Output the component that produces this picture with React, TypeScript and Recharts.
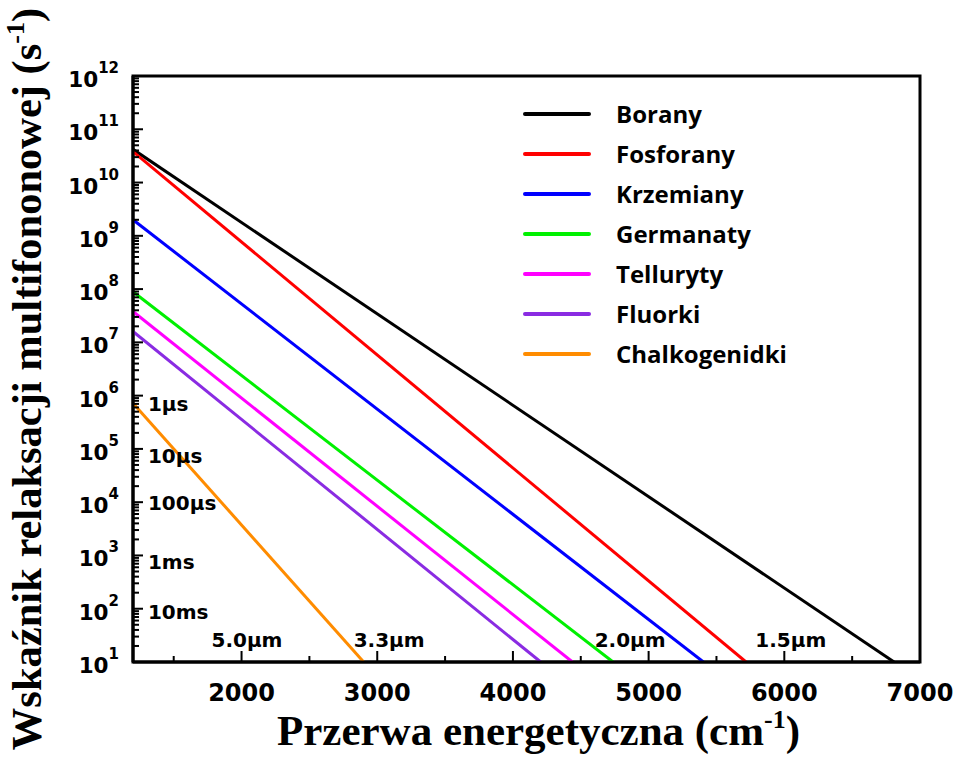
import React from 'react';
import { LineChart, Line, XAxis, YAxis, ReferenceArea, ReferenceDot, Legend } from 'recharts';

// ---- data ----
const seriesNames = ['Borany', 'Fosforany', 'Krzemiany', 'Germanaty', 'Telluryty', 'Fluorki', 'Chalkogenidki'];
const seriesColors = ['#000000', '#ff0000', '#0000ff', '#00f000', '#ff00ff', '#8a2be2', '#ff8c00'];
// rate (s^-1) at the left edge of the plot (gap = 1200 cm^-1)
const startRates = [4.2e10, 3.8e10, 2.0e9, 8.9e7, 3.8e7, 1.6e7, 7.2e5];
// energy gap (cm^-1) where each line reaches 10 s^-1
const endGaps = [6809, 5718, 5404, 4738, 4439, 4205, 2900];
const startGap = 1200;
const endRate = 10;

const xDomain = [1200, 7000];
const xTicks = [1500, 2000, 2500, 3000, 3500, 4000, 4500, 5000, 5500, 6000, 6500, 7000];
const yDomain = [10, 1e12];
const yDecades = [1, 2, 3, 4, 5, 6, 7, 8, 9, 10, 11, 12];
const yMinorMultipliers = [2, 3, 4, 5, 6, 7, 8, 9];

const timeLabels = ['1\u03bcs', '10\u03bcs', '100\u03bcs', '1ms', '10ms'];
const timeRates = [7.0e5, 7.5e4, 9.5e3, 7.5e2, 8.5e1];
const timeGap = 1310;

const wlLabels = ['5.0\u03bcm', '3.3\u03bcm', '2.0\u03bcm', '1.5\u03bcm'];
const wlGaps = [2040, 3088, 4864, 6048];

const yTicks: number[] = [];
yDecades.forEach((d) => {
  yTicks.push(Math.pow(10, d));
  if (d < 12) yMinorMultipliers.forEach((m) => yTicks.push(m * Math.pow(10, d)));
});

const TICK_FONT = 'DejaVu Sans';
const SERIF = 'Liberation Serif';

const YTick = (props: any) => {
  const { x, y, payload } = props;
  const v = payload.value;
  const exp = Math.round(Math.log10(v));
  const isMajor = Math.abs(v - Math.pow(10, exp)) < 1e-6 * v;
  return (
    <g>
      <line x1={x} x2={x + (isMajor ? 10 : 6)} y1={y} y2={y} stroke="#000" strokeWidth={2} />
      {isMajor && (
        <text x={x - 14} y={y + 11} textAnchor="end" fontFamily={TICK_FONT} fontWeight="bold" fontSize={21.5} fill="#000">
          10
          <tspan dy={-14} fontSize={15}>{exp}</tspan>
        </text>
      )}
    </g>
  );
};

const XTick = (props: any) => {
  const { x, y, payload } = props;
  const isMajor = payload.value % 1000 === 0;
  return (
    <g>
      <line x1={x} x2={x} y1={y} y2={y - (isMajor ? 11 : 6)} stroke="#000" strokeWidth={2} />
      {isMajor && (
        <text x={x} y={y + 39} textAnchor="middle" fontFamily={TICK_FONT} fontWeight="bold" fontSize={24} fill="#000">
          {payload.value}
        </text>
      )}
    </g>
  );
};

const XTitle = (props: any) => {
  const vb = props.viewBox || { x: 133, y: 662, width: 787, height: 96 };
  return (
    <text x={vb.x + vb.width / 2 + 12} y={vb.y + 83} textAnchor="middle" fontFamily={SERIF} fontWeight="bold" fontSize={43} fill="#000">
      Przerwa energetyczna (cm
      <tspan dy={-17} fontSize={26}>-1</tspan>
      <tspan dy={17}>)</tspan>
    </text>
  );
};

const YTitle = (props: any) => {
  const vb = props.viewBox || { x: 0, y: 76, width: 133, height: 586 };
  const cx = vb.x + 41;
  const cy = vb.y + vb.height / 2 + 10;
  return (
    <text x={cx} y={cy} transform={`rotate(-90 ${cx} ${cy})`} textAnchor="middle" fontFamily={SERIF} fontWeight="bold" fontSize={42.5} fill="#000">
      Wska{'\u017a'}nik relaksacji multifononowej (s
      <tspan dy={-17} fontSize={26}>-1</tspan>
      <tspan dy={17}>)</tspan>
    </text>
  );
};

const LegendContent = (props: any) => {
  const payload = [...(props.payload || [])].sort(
    (a: any, b: any) => seriesNames.indexOf(a.value) - seriesNames.indexOf(b.value)
  );
  return (
    <div>
      {payload.map((p: any) => (
        <div key={p.value} style={{ display: 'flex', alignItems: 'center', height: 40 }}>
          <svg width={68} height={8} style={{ display: 'block' }}>
            <line x1={2} x2={66} y1={4} y2={4} stroke={p.color} strokeWidth={4} strokeLinecap="round" />
          </svg>
          <span
            style={{
              marginLeft: 25,
              fontFamily: 'Open Sans',
              fontWeight: 700,
              fontSize: 24,
              lineHeight: '40px',
              color: '#000',
              whiteSpace: 'nowrap',
            }}
          >
            {p.value}
          </span>
        </div>
      ))}
    </div>
  );
};

export default function App() {
  return (
    <div style={{ position: 'absolute', left: 0, top: 0, width: 959, height: 758, background: '#fff' }}>
      <LineChart width={959} height={758} margin={{ top: 76, right: 39, bottom: 0, left: 0 }}>
        <XAxis
          dataKey="x"
          type="number"
          domain={xDomain}
          ticks={xTicks}
          interval={0}
          allowDataOverflow
          height={96}
          tickSize={0}
          tickMargin={0}
          tickLine={false}
          axisLine={{ stroke: '#000', strokeWidth: 3 }}
          tick={<XTick />}
          label={(p: any) => <XTitle {...p} />}
        />
        <YAxis
          type="number"
          scale="log"
          domain={yDomain}
          ticks={yTicks}
          interval={0}
          allowDataOverflow
          width={133}
          tickSize={0}
          tickMargin={0}
          tickLine={false}
          axisLine={{ stroke: '#000', strokeWidth: 3 }}
          tick={<YTick />}
          label={(p: any) => <YTitle {...p} />}
        />
        <ReferenceArea
          x1={xDomain[0]}
          x2={xDomain[1]}
          y1={yDomain[0]}
          y2={yDomain[1]}
          fill="none"
          fillOpacity={0}
          stroke="#000"
          strokeWidth={3}
          ifOverflow="visible"
        />
        {seriesNames.map((name, i) => (
          <Line
            key={name}
            name={name}
            data={[
              { x: startGap, y: startRates[i] },
              { x: endGaps[i], y: endRate },
            ]}
            dataKey="y"
            type="linear"
            stroke={seriesColors[i]}
            strokeWidth={3}
            dot={false}
            activeDot={false}
            legendType="line"
            isAnimationActive={false}
          />
        ))}
        {timeLabels.map((t, i) => (
          <ReferenceDot
            key={t}
            x={timeGap}
            y={timeRates[i]}
            r={0}
            ifOverflow="visible"
            shape={(p: any) => (
              <text x={p.cx} y={p.cy + 7} textAnchor="start" fontFamily={TICK_FONT} fontWeight="bold" fontSize={20} fill="#000">
                {t}
              </text>
            )}
          />
        ))}
        {wlLabels.map((t, i) => (
          <ReferenceDot
            key={t}
            x={wlGaps[i]}
            y={endRate}
            r={0}
            ifOverflow="visible"
            shape={(p: any) => (
              <text x={p.cx} y={p.cy - 15} textAnchor="middle" fontFamily={TICK_FONT} fontWeight="bold" fontSize={20} fill="#000">
                {t}
              </text>
            )}
          />
        ))}
        <Legend
          layout="vertical"
          align="center"
          verticalAlign="middle"
          content={<LegendContent />}
          wrapperStyle={{ position: 'absolute', left: 523, top: 94, width: 320, height: 280 }}
        />
      </LineChart>
    </div>
  );
}
